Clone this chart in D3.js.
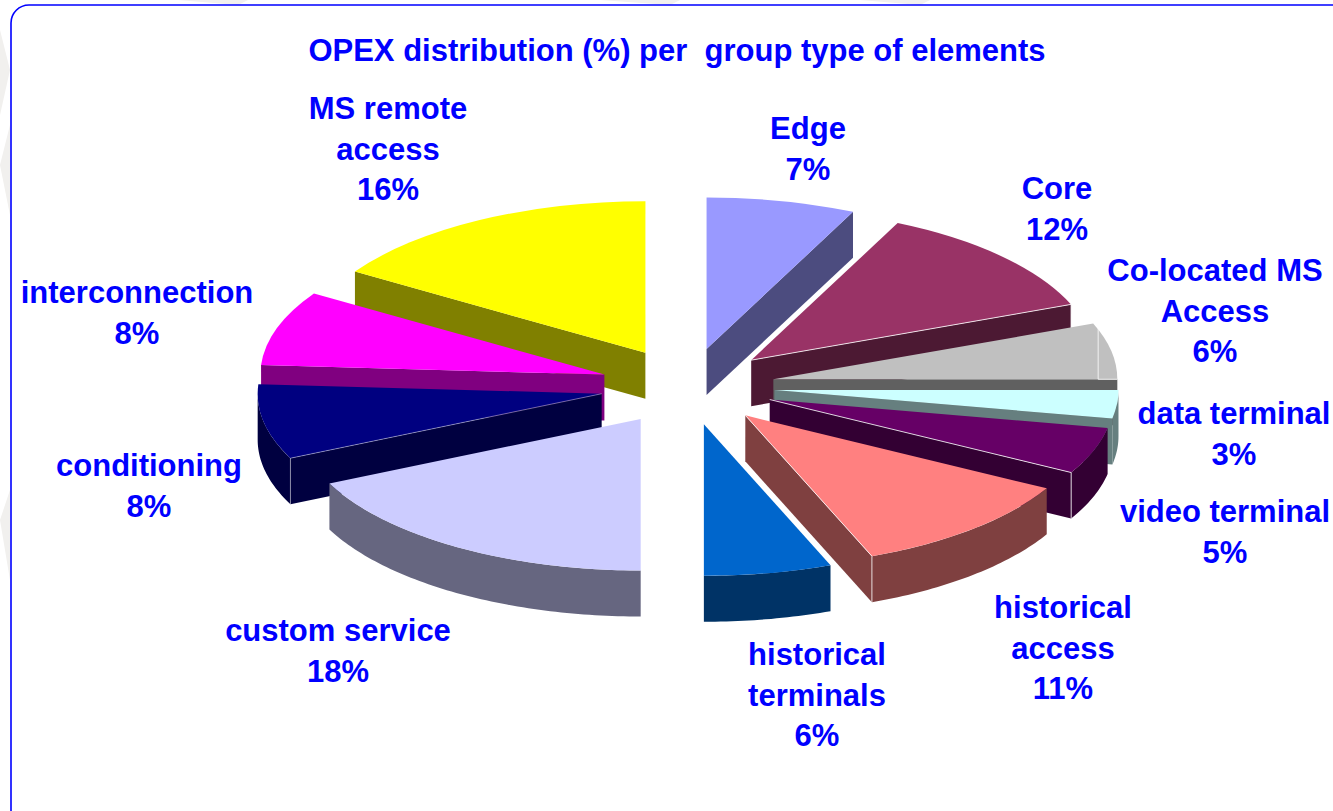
<!DOCTYPE html>
<html>
<head>
<meta charset="utf-8">
<script src="https://cdnjs.cloudflare.com/ajax/libs/d3/7.8.5/d3.min.js"></script>
<style>
html,body{margin:0;padding:0;background:#fff;overflow:hidden}
svg{display:block}
text{font-family:"Liberation Sans",Arial,sans-serif;font-weight:700;fill:#0000ff;text-anchor:middle}
</style>
</head>
<body>
<svg id="chart" width="1333" height="811"></svg>
<script>
const titleText = "OPEX distribution (%) per  group type of elements";
const categories = ["Edge","Core","Co-located MS Access","data terminal","video terminal","historical access","historical terminals","custom service","conditioning","interconnection","MS remote access"];
const labelLines = [["Edge"],["Core"],["Co-located MS","Access"],["data terminal"],["video terminal"],["historical","access"],["historical","terminals"],["custom service"],["conditioning"],["interconnection"],["MS remote","access"]];
const values = [7,12,6,3,5,11,6,18,8,8,16];
const topColors = ["#9999ff","#993366","#c0c0c0","#ccffff","#660066","#ff8080","#0066cc","#ccccff","#000080","#ff00ff","#ffff00"];
const wallColors = ["#4c4c7f","#4c1933","#606060","#667f7f","#330033","#7f4040","#003366","#666680","#000040","#800080","#808000"];

// layout (separate from the data)
const W = 1333, H = 811;
const cx = 687.5, cy = 386.5, rx = 344, ry = 151.5, depth = 46, explode = 0.254, fontSize = 31, lineGap = 40.7;
const labelCenters = [[808,139],[1057,199],[1215,281],[1234,424],[1225,522],[1063,618],[817,665],[338,641],[149,476],[137,303],[388,119]];
const highlighted = new Set(["Core","video terminal","historical access","conditioning"]);

const svg = d3.select("#chart");

// faint background bands, visible only in the margin around the panel
const bg = svg.append("g").attr("fill","#f1f0ee");
[[0,30,10,70,0,115],[0,165,10,125,10,215],[0,520,10,490,10,580],[178,0,248,0,238,5],[600,0,680,0,670,5],[860,0,930,0,920,5]]
  .forEach(p => bg.append("polygon").attr("points", d3.pairs(p).filter((_,i)=>i%2===0).join(" ")));

svg.append("rect").attr("x",11).attr("y",5).attr("width",1345).attr("height",825).attr("rx",18)
   .attr("fill","#fff").attr("stroke","#0000ff").attr("stroke-width",1.6);

const pie = d3.pie().sort(null).value(d => d.value);
const data = categories.map((name,i)=>({name,value:values[i],top:topColors[i],wall:wallColors[i],lines:labelLines[i],anchor:labelCenters[i]}));
const arcs = pie(data);

const sx = d3.scaleLinear().domain([-1,1]).range([-rx,rx]);
const sy = d3.scaleLinear().domain([-1,1]).range([-ry,ry]);
const pt = (a,o,dz=0) => [o[0]+sx(Math.sin(a)), o[1]+sy(-Math.cos(a))+dz];
const line = d3.line();
const arcGen = d3.arc().innerRadius(0).outerRadius(rx);

arcs.forEach(d => {
  d.mid = (d.startAngle+d.endAngle)/2;
  d.o = [cx+explode*sx(Math.sin(d.mid)), cy+explode*sy(-Math.cos(d.mid))];
});

const order = arcs.slice().sort((a,b)=>(-Math.cos(a.mid))-(-Math.cos(b.mid)));

const sliceG = svg.append("g").selectAll("g").data(order).join("g");

sliceG.each(function(d){
  const g = d3.select(this);
  const rightSide = d.mid < Math.PI;
  const wallAngle = rightSide ? d.endAngle : d.startAngle;
  const p = pt(wallAngle,d.o);
  // radial wall
  g.append("path").attr("fill",d.data.wall)
    .attr("d",line([d.o,p,[p[0],p[1]+depth],[d.o[0],d.o[1]+depth]])+"Z");
  // outer curved wall: front half only
  const a0 = Math.max(d.startAngle,Math.PI/2), a1 = Math.min(d.endAngle,Math.PI*1.5);
  if (a1>a0){
    const n = Math.max(2,Math.ceil((a1-a0)*60));
    const as = d3.range(n+1).map(i=>a0+(a1-a0)*i/n);
    const up = as.map(a=>pt(a,d.o));
    const down = as.slice().reverse().map(a=>pt(a,d.o,depth));
    g.append("path").attr("fill",d.data.wall).attr("d",line(up.concat(down))+"Z");
  }
  // top face
  g.append("path").attr("fill",d.data.top)
    .attr("transform",`translate(${d.o[0]},${d.o[1]}) scale(1,${ry/rx})`)
    .attr("d",arcGen(d));
  if (highlighted.has(d.data.name)){
    g.append("path").attr("fill","none").attr("stroke","#fff")
      .attr("stroke-width",1).attr("stroke-opacity",d.data.name==="conditioning"?0.4:0.8)
      .attr("d",line([d.o,p,[p[0],p[1]+depth]]));
  }
  if (d.data.name==="Co-located MS Access"){
    const s = pt(d.startAngle,d.o), e = pt(d.endAngle,d.o);
    g.append("path").attr("fill","none").attr("stroke","#fff").attr("stroke-width",1).attr("stroke-opacity",0.8)
      .attr("d",line([[s[0]+5,s[1]+3],[s[0]+5,e[1]],[e[0],e[1]]]));
  }
});

// labels
const labels = svg.append("g").selectAll("text").data(arcs).join("text")
  .attr("font-size",fontSize)
  .attr("x",d=>d.data.anchor[0])
  .attr("y",d=>d.data.anchor[1]);
labels.selectAll("tspan").data(d=>d.data.lines.concat([d.data.value+"%"]).map((t,i)=>({t,i,x:d.data.anchor[0]})))
  .join("tspan")
  .attr("x",d=>d.x)
  .attr("dy",d=>d.i?lineGap:0)
  .text(d=>d.t);

svg.append("text").attr("x",677).attr("y",61).attr("font-size",fontSize)
  .attr("xml:space","preserve").style("white-space","pre").text(titleText);
</script>
</body>
</html>
